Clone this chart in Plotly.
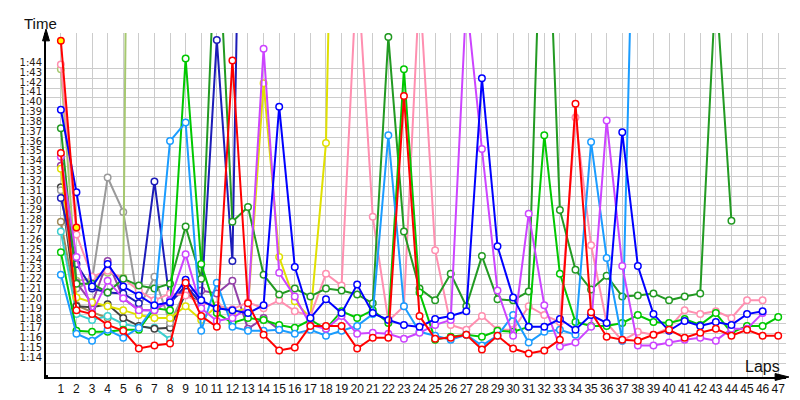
import plotly.graph_objects as go

laps = list(range(1, 48))
tick_secs = list(range(74, 105))
tick_text = ["1:%02d" % (s - 60) for s in tick_secs]
grid_secs = [s - 0.6 for s in tick_secs]

red_lead = [106.2, 87.2]
red = [94.8, 78.8, 78.4, 77.3, 76.7, 74.9, 75.2, 75.4, 81.6, 78.2,
       77.1, 104.2, 79.5, 76.3, 74.7, 75.0, 77.2, 77.2, 77.2, 74.9,
       76.0, 76.0, 100.6, 78.2, 75.9, 76.0, 76.3, 74.8, 76.2, 74.9,
       74.4, 74.7, 75.8, 99.8, 78.6, 76.1, 75.8, 75.7, 76.3, 76.8,
       76.0, 76.5, 76.9, 76.2, 76.8, 76.2, 76.2]
pink = [103.8, 86.5, 82.2, 82.8, 82.0, 80.8, 79.8, 80.5, 80.3, 79.5,
        79.3, 78.9, 79.6, 79.0, 79.8, 78.7, 78.2, 82.5, 81.3, 114.0,
        88.3, 77.7, 79.2, 112.0, 84.9, 77.3, 76.8, 78.2, 76.8, 76.8,
        79.2, 78.3, 77.6, 98.4, 85.4, 77.5, 75.7, 76.6, 76.3, 77.0,
        78.8, 78.4, 78.7, 78.0, 79.8, 79.8]
yellowgreen = [103.3, 81.8, 82.0, 82.6, 82.1, 250.0]
blue = [99.2, 90.8, 81.2, 83.5, 81.2, 80.3, 79.3, 79.6, 81.9, 79.8,
        79.0, 78.8, 78.5, 79.3, 99.5, 83.2, 78.0, 79.9, 78.5, 81.4,
        78.5, 77.8, 77.3, 77.1, 77.9, 78.2, 78.7, 102.4, 85.3, 80.1,
        77.1, 77.1, 77.9, 76.8, 78.3, 77.5, 96.9, 83.3, 78.4, 76.7,
        77.7, 77.2, 77.6, 77.3, 78.4, 78.7]
navy = [90.2, 83.5, 81.0, 80.6, 80.5, 79.5, 91.9, 79.5, 81.3, 79.5,
        106.3, 83.8, 170.0]
forest = [97.3, 81.5, 81.5, 80.6, 82.0, 81.3, 81.0, 81.5, 87.3, 82.0,
          120.0, 87.8, 89.3, 82.4, 80.4, 81.0, 80.2, 81.0, 80.8, 80.4,
          79.5, 106.6, 86.8, 81.0, 79.8, 82.5, 79.2, 84.3, 79.9, 79.8,
          80.7, 130.0, 89.0, 82.9, 80.9, 82.3, 80.2, 80.3, 80.5, 79.8,
          80.2, 80.5, 112.0, 87.9]
green = [84.7, 76.7, 76.6, 76.6, 76.8, 76.8, 79.0, 78.8, 104.4, 83.5,
         78.5, 77.5, 78.0, 77.8, 77.3, 77.0, 77.8, 76.9, 78.7, 78.0,
         78.8, 77.5, 103.3, 80.6, 75.8, 76.1, 76.3, 76.1, 76.7, 76.6,
         77.1, 96.6, 82.5, 77.6, 77.2, 77.2, 77.5, 78.3, 77.6, 77.5,
         77.9, 77.3, 78.5, 76.5, 77.2, 77.2, 78.1]
gray = [91.0, 81.0, 81.8, 92.3, 88.8, 79.0, 82.2, 77.5, 80.8, 79.8]
darkgray = [91.3, 79.2, 79.1, 79.4, 78.0, 77.2, 76.9, 77.0, 80.5, 79.5]
yellow = [93.2, 80.1, 79.6, 79.2, 78.8, 78.3, 78.0, 78.0, 79.2, 77.8,
          79.2, 78.6, 79.0, 101.9, 84.2, 79.7, 78.0, 95.8, 170.0]
cyan = [86.8, 78.4, 77.8, 78.2, 77.4, 77.1, 77.0, 75.8]
dodger = [82.4, 76.4, 75.7, 76.8, 76.0, 77.0, 79.2, 96.0, 97.9, 76.7,
          81.6, 77.1, 76.7, 76.7, 76.8, 76.4, 76.8, 76.2, 76.7, 77.2,
          78.4, 96.6, 79.2, 76.6, 76.2, 75.8, 76.3, 75.2, 76.2, 78.3,
          75.5, 76.6, 76.8, 76.3, 95.9, 84.1, 75.7, 140.0]
violet = [94.4, 84.2, 78.5, 81.8, 80.0, 78.8, 78.8, 79.8, 84.5, 79.0,
          77.7, 78.0, 79.0, 105.4, 82.6, 80.2, 77.3, 76.9, 78.2, 76.4,
          76.5, 76.4, 75.9, 76.5, 77.3, 77.8, 110.5, 95.2, 80.8, 76.2,
          88.6, 79.3, 75.1, 75.5, 77.1, 98.1, 83.3, 75.2, 75.2, 75.5,
          75.8, 76.0, 75.7, 76.9, 76.9, 78.5]
purple = [93.5, 81.6, 79.5, 83.8, 80.0, 78.8, 78.8, 79.8, 80.8, 80.8,
          80.5, 81.8, 76.9, 78.0, 76.8]
olive = [87.8, 79.3, 78.6, 78.0]

series = [
    ("Olive", olive, "#a08a5a", "white"),
    ("Cyan", cyan, "#3ccfcf", "white"),
    ("Dark gray", darkgray, "#404040", "white"),
    ("Gray", gray, "#9a9a9a", "white"),
    ("Yellow green", yellowgreen, "#a6c870", "white"),
    ("Purple", purple, "#9240a8", "white"),
    ("Yellow", yellow, "#e0e000", "white"),
    ("Navy", navy, "#1c1cb8", "white"),
    ("Pink", pink, "#ff8fb0", "white"),
    ("Forest", forest, "#229a22", "white"),
    ("Green", green, "#00c800", "white"),
    ("Dodger", dodger, "#1a9cff", "white"),
    ("Violet", violet, "#cc44ff", "white"),
    ("Blue", blue, "#0000ff", "white"),
    ("Red", red, "#ff0000", "white"),
    ("Red lead", red_lead, "#ff0000", "#ffff00"),
]

fig = go.Figure()
for name, vals, color, fill in series:
    fig.add_trace(go.Scatter(
        x=laps[:len(vals)], y=vals, name=name, mode="lines+markers",
        line=dict(color=color, width=2),
        marker=dict(size=6.5, color=fill, line=dict(color=color, width=1.5)),
    ))

# paper-coordinate helpers for decorations
L, R, T, B = 31, 22, 25, 25
PW, PH = 800 - L - R, 400 - T - B
def px(x):
    return (x - L) / PW
def py(y):
    return (400 - B - y) / PH

shapes = [
    dict(type="path", xref="paper", yref="paper",
         path="M %f,%f L %f,%f L %f,%f Z" % (px(31), py(21), px(27.5), py(33), px(34.5), py(33)),
         fillcolor="black", line=dict(color="black", width=1)),
    dict(type="path", xref="paper", yref="paper",
         path="M %f,%f L %f,%f L %f,%f Z" % (px(781), py(375), px(767), py(371.5), px(767), py(378.5)),
         fillcolor="black", line=dict(color="black", width=1)),
    dict(type="line", xref="paper", yref="paper", x0=px(776), x1=px(770), y0=py(375), y1=py(375),
         line=dict(color="black", width=2)),
    dict(type="rect", xref="paper", yref="paper", x0=px(29), x1=px(33), y0=py(377), y1=py(373),
         fillcolor="black", line=dict(width=0)),
]

fig.update_layout(
    width=800, height=400,
    margin=dict(l=L, r=R, t=T, b=B),
    plot_bgcolor="white", paper_bgcolor="white",
    showlegend=False,
    shapes=shapes,
    annotations=[
        dict(text="Time", xref="paper", yref="paper", x=px(7), y=py(15),
             xanchor="left", yanchor="middle", showarrow=False,
             font=dict(family="Liberation Sans", size=15, color="#111")),
        dict(text="Laps", xref="paper", yref="paper", x=px(774), y=py(364),
             xanchor="right", yanchor="middle", showarrow=False,
             font=dict(family="Liberation Sans", size=16, color="#111")),
    ],
    xaxis=dict(
        range=[0.047, 47.5], tickmode="array", tickvals=laps,
        ticktext=[str(v) for v in laps], tickangle=0,
        showgrid=True, gridcolor="#cccccc", gridwidth=1,
        zeroline=False, showline=True, linecolor="black", linewidth=2,
        ticks="", tickfont=dict(family="Liberation Sans", size=12, color="#111"),
    ),
    yaxis=dict(
        range=[72, 107], tickmode="array", tickvals=tick_secs, ticktext=tick_text,
        showgrid=False, zeroline=False, showline=True, linecolor="black", linewidth=2,
        ticks="", tickfont=dict(family="DejaVu Sans", size=10, color="#2a1a10"),
        minor=dict(tickmode="array", tickvals=grid_secs, showgrid=True,
                   gridcolor="#cccccc", gridwidth=1, ticks=""),
    ),
)

fig.write_html("out.html")
